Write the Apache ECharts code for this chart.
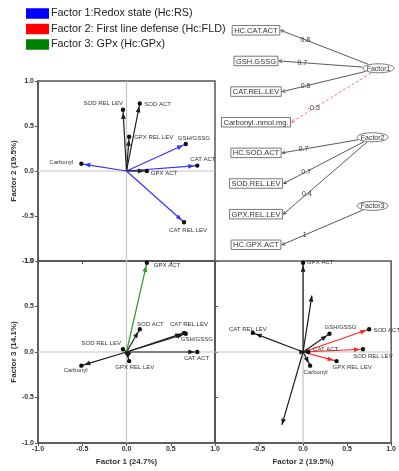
<!DOCTYPE html>
<html>
<head>
<meta charset="utf-8">
<script src="https://cdn.jsdelivr.net/npm/echarts/dist/echarts.min.js"></script>
<style>
  html, body { margin: 0; padding: 0; background: #fff; }
  #chart { width: 399px; height: 471px; }
</style>
</head>
<body>
<div id="chart"></div>
<script>
// Variables shown as vectors in the three factor planes
const variables = ['SOD ACT', 'SOD REL LEV', 'GPX REL LEV', 'GSH/GSSG', 'CAT ACT', 'GPX ACT', 'CAT REL LEV', 'Carbonyl'];
// Loadings of each variable on the three factors
const factor1 = [0.15, -0.04, 0.03, 0.67, 0.80, 0.23, 0.65, -0.51];
const factor2 = [0.75, 0.68, 0.38, 0.30, 0.06, 0.00, -0.57, 0.08];
const factor3 = [0.25, 0.03, -0.10, 0.20, 0.00, 0.98, 0.21, -0.15];
// Factor each variable is assigned to (1 redox state, 2 first line defense, 3 GPx)
const variableGroup = [2, 2, 2, 1, 1, 3, 1, 1];
// Two unlabeled directions drawn in the Factor 2 / Factor 3 plane
const extraF2 = [0.10, -0.24];
const extraF3 = [0.62, -0.80];
// Axis ticks shared by all three planes
const axisTicks = [-1.0, -0.5, 0.0, 0.5, 1.0];
// Legend entries
const legendNames = ['Factor 1:Redox state (Hc:RS)', 'Factor 2: First line defense (Hc:FLD)', 'Factor 3: GPx (Hc:GPx)'];
const legendColors = ['#0000ff', '#ff0000', '#008000'];
// Path diagram: observed indicators, their factor and standardized loading
const indicators = ['HC.CAT.ACT', 'GSH.GSSG', 'CAT.REL.LEV', 'Carbonyl..nmol.mg.', 'HC.SOD.ACT', 'SOD.REL.LEV', 'GPX.REL.LEV', 'HC.GPX.ACT'];
const indicatorFactor = [1, 1, 1, 1, 2, 2, 2, 3];
const indicatorLoading = [0.8, 0.7, 0.6, -0.5, 0.7, 0.7, 0.4, 1];
const factorNames = ['Factor1', 'Factor2', 'Factor3'];

// ---- layout / style (not data) ----
const FONT = '"Liberation Sans", Arial, sans-serif';
const vectorColors = { 1: '#3434ff', 2: '#ff2424', 3: '#2a9a2a' };
const plainVector = '#1c1c1c';
// label offsets [dx, dy, align] per variable, per plane
const labelsF1F2 = [[4.5, 1, 'left'], [0, -6, 'right'], [5, 1, 'left'], [-8, -6, 'left'], [-7, -6.5, 'left'], [4, 2, 'left'], [4, 8, 'center'], [-8, -1.5, 'right']];
const labelsF1F3 = [[-2.7, -5, 'left'], [-2, -5.7, 'right'], [5.7, 6.6, 'center'], [-5, 5.5, 'left'], [-13.4, 6.3, 'left'], [7, 3, 'left'], [-14, -8.5, 'left'], [-5.7, 5, 'center']];
const labelsF2F3 = [[4.3, 1, 'left'], [10, 7.4, 'center'], [15.6, 6.6, 'center'], [11, -6.6, 'center'], [4.7, -2.7, 'left'], [4, 0, 'left'], [-5, -3.3, 'center'], [5.5, 6.3, 'center']];
// path diagram placement: box rows and factor node positions
const factorCol = [1.03, 0.98, 0.98];
const factorRow = [1.24, 3.49, 5.73];

const measureCtx = document.createElement('canvas').getContext('2d');
function textWidth(s, size) {
  measureCtx.font = size + 'px ' + FONT;
  return measureCtx.measureText(s).width;
}

const tMin = axisTicks[0], tMax = axisTicks[axisTicks.length - 1], tStep = axisTicks[1] - axisTicks[0];

function arrowHead(tip, ux, uy, len, hw) {
  const bx = tip[0] - ux * len, by = tip[1] - uy * len;
  return [tip, [bx - uy * hw, by + ux * hw], [bx + uy * hw, by - ux * hw]];
}

// Vectors from the origin, arrow head near the end, optional dot and label
function vectorRenderer(highlight, labels, withDot) {
  return function (params, api) {
    const i = params.dataIndex;
    const o = api.coord([0, 0]);
    const p = api.coord([api.value(0), api.value(1)]);
    const dx = p[0] - o[0], dy = p[1] - o[1];
    const len = Math.hypot(dx, dy) || 1;
    const ux = dx / len, uy = dy / len;
    const grp = api.value(2);
    const col = (highlight && grp === highlight) ? vectorColors[highlight] : plainVector;
    const gap = withDot ? 3 : 0;
    const tip = [p[0] - ux * gap, p[1] - uy * gap];
    const children = [
      { type: 'line', shape: { x1: o[0], y1: o[1], x2: p[0], y2: p[1] }, style: { stroke: col, lineWidth: 1.2 } },
      { type: 'polygon', shape: { points: arrowHead(tip, ux, uy, 6, 2.4) }, style: { fill: col } }
    ];
    if (withDot) {
      children.push({ type: 'circle', shape: { cx: p[0], cy: p[1], r: 2.2 }, style: { fill: '#111' } });
    }
    if (labels) {
      const L = labels[i];
      children.push({
        type: 'text', x: p[0] + L[0], y: p[1] + L[1],
        style: { text: variables[i], fill: '#333', fontSize: 6, fontFamily: FONT, align: L[2], verticalAlign: 'middle' }
      });
    }
    return { type: 'group', children: children };
  };
}

// Light grey reference lines through the origin
function zeroLinesRenderer(params, api) {
  const a = api.coord([0, tMin]), b = api.coord([0, tMax]);
  const c = api.coord([tMin, 0]), d = api.coord([tMax, 0]);
  const st = { stroke: '#c4c4c4', lineWidth: 1.2 };
  return {
    type: 'group', children: [
      { type: 'line', shape: { x1: a[0], y1: a[1], x2: b[0], y2: b[1] }, style: st },
      { type: 'line', shape: { x1: c[0], y1: c[1], x2: d[0], y2: d[1] }, style: st }
    ]
  };
}

function planeAxis(gridIndex, opts) {
  return Object.assign({
    type: 'value', gridIndex: gridIndex, min: tMin, max: tMax, interval: tStep,
    axisLine: { show: true, onZero: false, lineStyle: { color: '#555', width: 1.5 } },
    axisTick: { show: true, length: 3, lineStyle: { color: '#555', width: 1 } },
    splitLine: { show: false },
    axisLabel: {
      show: true, fontSize: 7, fontWeight: 'bold', color: '#333', fontFamily: FONT, margin: 4,
      formatter: v => v.toFixed(1)
    },
    nameLocation: 'middle',
    nameTextStyle: { fontSize: 8, fontWeight: 'bold', color: '#333', fontFamily: FONT }
  }, opts);
}

const gridStyle = { show: true, borderColor: '#555', borderWidth: 1.5, backgroundColor: 'transparent' };

// Box nodes and loading edges of the path diagram
function boxRenderer(params, api) {
  const i = params.dataIndex;
  const c = api.coord([api.value(0), api.value(1)]);
  const w = textWidth(indicators[i], 7.5) + 4, h = 9.5;
  const k = indicatorFactor[i] - 1;
  const fc = api.coord([factorCol[k], factorRow[k]]);
  const end = [c[0] + w / 2 + 1, c[1]];
  let vx = end[0] - fc[0], vy = end[1] - fc[1];
  const vl = Math.hypot(vx, vy);
  vx /= vl; vy /= vl;
  const rx = 15.5, ry = 4.5;
  const t = 1 / Math.sqrt((vx / rx) ** 2 + (vy / ry) ** 2) + 1;
  const start = [fc[0] + vx * t, fc[1] + vy * t];
  const neg = indicatorLoading[i] < 0;
  const stroke = neg ? '#ff7a7a' : '#5a5a5a';
  const back = [end[0] - vx * 3, end[1] - vy * 3];
  const lab = [end[0] + (start[0] - end[0]) * 0.28, end[1] + (start[1] - end[1]) * 0.28];
  return {
    type: 'group', children: [
      { type: 'line', shape: { x1: start[0], y1: start[1], x2: end[0], y2: end[1] },
        style: { stroke: stroke, lineWidth: 1, lineDash: neg ? [3, 2] : null } },
      { type: 'polyline', shape: { points: [[back[0] - vy * 1.6, back[1] + vx * 1.6], end, [back[0] + vy * 1.6, back[1] - vx * 1.6]] },
        style: { stroke: stroke, lineWidth: 1, fill: null } },
      { type: 'text', x: lab[0], y: lab[1],
        style: { text: String(indicatorLoading[i]), fill: '#333', fontSize: 7, fontFamily: FONT, align: 'center', verticalAlign: 'middle' } },
      { type: 'rect', shape: { x: c[0] - w / 2, y: c[1] - h / 2, width: w, height: h },
        style: { fill: '#fff', stroke: '#777', lineWidth: 1 } },
      { type: 'text', x: c[0], y: c[1] + 0.5,
        style: { text: indicators[i], fill: '#333', fontSize: 7.5, fontFamily: FONT, align: 'center', verticalAlign: 'middle' } }
    ]
  };
}

function factorRenderer(params, api) {
  const i = params.dataIndex;
  const c = api.coord([api.value(0), api.value(1)]);
  return {
    type: 'group', children: [
      { type: 'ellipse', shape: { cx: c[0], cy: c[1], rx: 15.5, ry: 4.5 }, style: { fill: '#fff', stroke: '#777', lineWidth: 1 } },
      { type: 'text', x: c[0], y: c[1] + 0.5,
        style: { text: factorNames[i], fill: '#333', fontSize: 7, fontFamily: FONT, align: 'center', verticalAlign: 'middle' } }
    ]
  };
}

const pointsF1F2 = variables.map((v, i) => [factor1[i], factor2[i], variableGroup[i]]);
const pointsF1F3 = variables.map((v, i) => [factor1[i], factor3[i], variableGroup[i]]);
const pointsF2F3 = variables.map((v, i) => [factor2[i], factor3[i], variableGroup[i]]);
const pointsExtra = extraF2.map((v, i) => [extraF2[i], extraF3[i], 0]);

const chart = echarts.init(document.getElementById('chart'), null, { renderer: 'canvas' });

const option = {
  animation: false,
  backgroundColor: '#fff',
  textStyle: { fontFamily: FONT },
  legend: {
    orient: 'vertical', left: 26, top: 8, padding: 0, itemWidth: 23, itemHeight: 10.5, itemGap: 4.5,
    icon: 'rect', selectedMode: false,
    textStyle: { fontSize: 10.8, color: '#222', fontFamily: FONT, padding: [0, 0, 0, -3] },
    data: legendNames
  },
  grid: [
    Object.assign({ left: 38, top: 81, width: 177, height: 180 }, gridStyle),
    Object.assign({ left: 38, top: 261, width: 177, height: 182 }, gridStyle),
    Object.assign({ left: 215, top: 261, width: 177, height: 182 }, gridStyle),
    { left: 256, top: 30.3, width: 119, height: 214.5, show: false }
  ],
  xAxis: [
    planeAxis(0, { axisLabel: { show: false } }),
    planeAxis(1, { name: 'Factor 1 (24.7%)', nameGap: 15, axisLabel: { show: true, fontSize: 7, fontWeight: 'bold', color: '#333', fontFamily: FONT, margin: 3, formatter: v => v.toFixed(1) } }),
    planeAxis(2, { name: 'Factor 2 (19.5%)', nameGap: 15, axisLabel: { show: true, showMinLabel: false, fontSize: 7, fontWeight: 'bold', color: '#333', fontFamily: FONT, margin: 3, formatter: v => v.toFixed(1) } }),
    { type: 'value', gridIndex: 3, min: 0, max: 1, show: false }
  ],
  yAxis: [
    planeAxis(0, { name: 'Factor 2 (19.5%)', nameGap: 19 }),
    planeAxis(1, { name: 'Factor 3 (14.1%)', nameGap: 19 }),
    planeAxis(2, { axisLabel: { show: false }, axisTick: { show: true, inside: true, length: 3, lineStyle: { color: '#555' } } }),
    { type: 'value', gridIndex: 3, min: 0, max: 7, inverse: true, show: false }
  ],
  series: [
    // legend entries
    ...legendNames.map((n, k) => ({ type: 'line', name: n, xAxisIndex: 0, yAxisIndex: 0, data: [], color: legendColors[k], itemStyle: { color: legendColors[k] } })),
    // reference lines through the origin
    { type: 'custom', xAxisIndex: 0, yAxisIndex: 0, data: [[0, 0]], renderItem: zeroLinesRenderer, z: 1, silent: true },
    { type: 'custom', xAxisIndex: 1, yAxisIndex: 1, data: [[0, 0]], renderItem: zeroLinesRenderer, z: 1, silent: true },
    { type: 'custom', xAxisIndex: 2, yAxisIndex: 2, data: [[0, 0]], renderItem: zeroLinesRenderer, z: 1, silent: true },
    // factor planes
    { type: 'custom', xAxisIndex: 0, yAxisIndex: 0, data: pointsF1F2, encode: { x: 0, y: 1 }, renderItem: vectorRenderer(1, labelsF1F2, true), clip: false, z: 3, silent: true },
    { type: 'custom', xAxisIndex: 1, yAxisIndex: 1, data: pointsF1F3, encode: { x: 0, y: 1 }, renderItem: vectorRenderer(3, labelsF1F3, true), clip: false, z: 3, silent: true },
    { type: 'custom', xAxisIndex: 2, yAxisIndex: 2, data: pointsExtra, encode: { x: 0, y: 1 }, renderItem: vectorRenderer(0, null, false), clip: false, z: 2, silent: true },
    { type: 'custom', xAxisIndex: 2, yAxisIndex: 2, data: pointsF2F3, encode: { x: 0, y: 1 }, renderItem: vectorRenderer(2, labelsF2F3, true), clip: false, z: 3, silent: true },
    // path diagram
    { type: 'custom', xAxisIndex: 3, yAxisIndex: 3, data: indicators.map((n, i) => [0, i]), encode: { x: 0, y: 1 }, renderItem: boxRenderer, clip: false, z: 3, silent: true },
    { type: 'custom', xAxisIndex: 3, yAxisIndex: 3, data: factorNames.map((n, k) => [factorCol[k], factorRow[k]]), encode: { x: 0, y: 1 }, renderItem: factorRenderer, clip: false, z: 4, silent: true }
  ]
};

chart.setOption(option);
</script>
</body>
</html>
